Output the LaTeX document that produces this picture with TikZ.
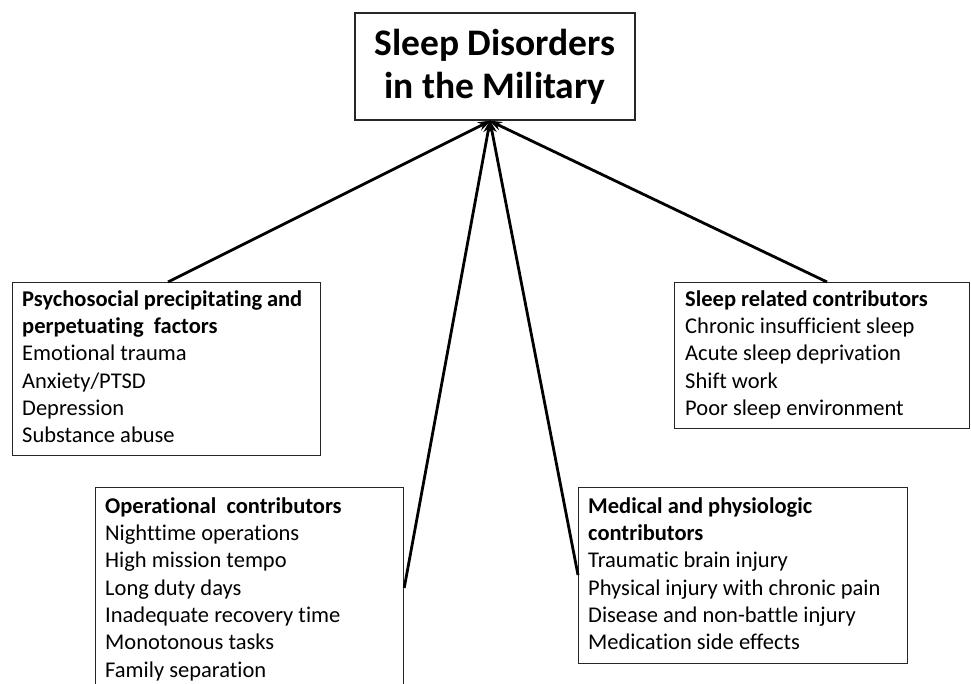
\documentclass[tikz,border=0pt]{standalone}
\usepackage{fontspec}
\setmainfont{Carlito}[Ligatures=CommonOff]
\usetikzlibrary{arrows.meta,calc}
\tikzset{
  box/.style={draw=black!85, line width=1.2pt, rectangle, inner sep=0pt, anchor=north west},
  txt/.style={anchor=north west, inner sep=0pt, align=left, font=\fontsize{22.5}{27.3}\selectfont},
  arr/.style={line width=2.8pt, -{Stealth[length=13pt,width=9pt]}, shorten >=-1pt},
}
\begin{document}
\begin{tikzpicture}[x=1pt,y=-1pt]
\clip (0,0) rectangle (971,684);
\fill[white] (0,0) rectangle (971,684);
% title
\node[draw=black!85, line width=1.2pt, minimum width=280, minimum height=107, inner sep=0pt, align=center,
  font=\bfseries\fontsize{37.5}{43}\selectfont] (title) at (495,66.5) {Sleep Disorders\\in the Military};
\coordinate (tip) at (490,121);
% boxes
\node[box, minimum width=308, minimum height=173] (psy) at (12,282) {};
\node[box, minimum width=295, minimum height=146] (slp) at (674,282) {};
\node[box, minimum width=308, minimum height=213] (ops) at (95,487) {};
\node[box, minimum width=329, minimum height=176] (med) at (578,487) {};
% texts
\node[txt] (psyt) at (22,287) {\strut\makebox[280pt][s]{\textbf{Psychosocial precipitating and}}\\\textbf{perpetuating\ \ factors}\\Emotional trauma\\Anxiety/PTSD\\Depression\\Substance abuse};
\node[txt] (slpt) at (685,287) {\strut\textbf{Sleep related contributors}\\Chronic insufficient sleep\\Acute sleep deprivation\\Shift work\\Poor sleep environment};
\node[txt] (opst) at (105,494) {\strut\textbf{Operational\ \ contributors}\\Nighttime operations\\High mission tempo\\Long duty days\\Inadequate\ recovery time\\Monotonous tasks\\Family separation};
\node[txt] (medt) at (588,494) {\strut\textbf{Medical and physiologic}\\\textbf{contributors}\\Traumatic brain injury\\Physical injury with chronic pain\\Disease and non-battle injury\\Medication side effects};
% connector start points
\coordinate (p1) at ($(psy.north west)+(156,0)$);
\coordinate (p2) at ($(slp.north west)+(153,0)$);
\coordinate (p3) at ($(ops.north east)+(0,101)$);
\coordinate (p4) at ($(med.north west)+(0,88)$);
\draw[arr] (p1) -- (tip);
\draw[arr] (p2) -- (tip);
\draw[arr] (p3) -- (tip);
\draw[arr] (p4) -- (tip);
\end{tikzpicture}
\end{document}
